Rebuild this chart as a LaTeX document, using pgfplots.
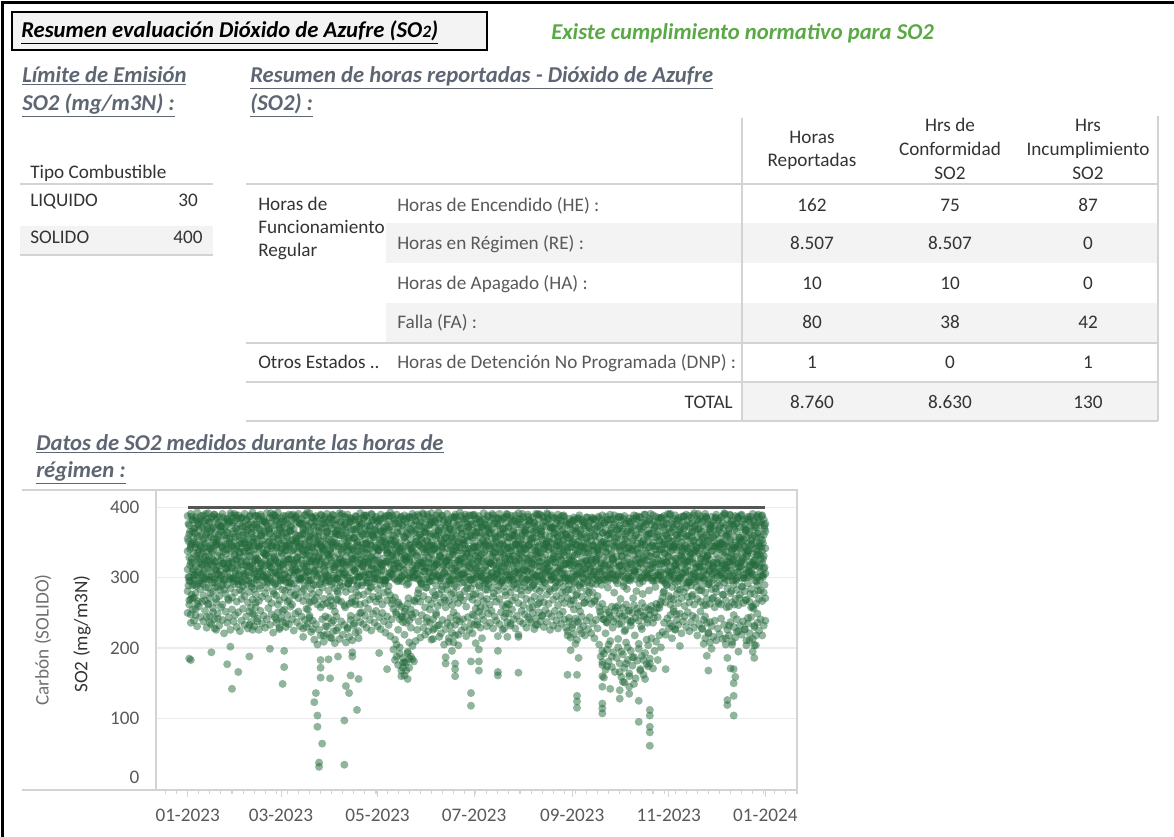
\documentclass[border=0pt]{standalone}
\usepackage{fontspec}
\setmainfont{Carlito}
\usepackage{pgfplots}
\usepackage{pgfplotstable}
\pgfplotsset{compat=1.18}
\definecolor{hdr}{HTML}{5E6673}
\definecolor{okg}{HTML}{5BA846}
\definecolor{dk}{HTML}{333333}
\definecolor{md}{HTML}{595959}
\definecolor{lg}{HTML}{707070}
\definecolor{shd}{HTML}{F3F3F3}
\definecolor{rl}{HTML}{D3D3D3}
\definecolor{ptc}{HTML}{22693A}
\definecolor{lim}{HTML}{555555}
\definecolor{grd}{HTML}{EBEBEB}
\newcommand\bodyf{\fontsize{14.4}{18}\selectfont}
\newcommand\hdrf{\fontsize{17}{20}\selectfont\bfseries\itshape}

\pgfplotstableread{
d a b c e f g
0 388 356 338 312 281 250
1 375 362 329 301 296 268
2 391 347 344 322 270 236
3 382 366 321 309 289 255
4 370 351 335 299 305 272
5 386 343 348 316 278 247
6 393 359 326 304 263 231
7 377 368 340 327 292 259
8 384 345 333 296 284 244
9 372 361 319 318 301 266
10 389 354 342 307 275 238
11 381 349 330 321 268 253
12 374 364 337 300 297 229
13 392 357 324 313 286 262
14 379 342 346 319 271 245
15 385 369 328 302 309 234
16 371 350 339 325 280 257
17 390 362 322 298 293 241
18 383 346 350 311 265 226
19 376 358 331 306 287 249
20 387 353 336 317 274 232
21 373 366 325 303 299 258
22 391 344 343 320 262 240
23 380 360 320 297 283 221
24 369 348 334 314 277 252
25 384 365 347 308 290 236
26 378 341 327 323 268 244
27 392 356 338 301 285 226
28 375 363 323 315 272 255
29 386 350 345 299 295 238
30 381 358 332 310 279 247
31 370 345 341 326 266 230
32 389 367 318 304 291 251
33 377 352 336 297 283 224
34 385 343 349 319 270 239
35 373 361 329 311 288 256
36 391 349 337 302 274 233
37 382 364 324 322 297 245
38 368 355 344 308 265 228
39 387 346 331 316 280 252
40 379 362 339 300 292 237
41 393 351 322 318 269 249
42 376 340 346 306 284 231
43 388 367 333 324 276 258
44 371 356 327 298 301 242
45 384 344 342 313 267 226
46 390 360 320 309 289 253
47 374 353 348 321 273 235
48 383 366 335 303 294 246
49 380 347 326 317 278 229
50 392 358 340 305 286 241
51 369 350 331 320 270 257
52 386 363 323 299 297 233
53 378 342 345 314 264 248
54 389 357 334 307 281 222
55 375 368 328 325 291 244
56 382 346 343 302 275 236
57 393 355 321 316 288 251
58 372 361 337 310 268 227
59 385 349 330 296 299 243
60 380 364 346 319 283 238
61 371 352 324 305 272 255
62 388 343 339 322 294 230
63 377 359 332 300 266 247
64 390 348 345 315 287 234
65 374 366 327 308 279 259
66 383 354 338 318 262 241
67 369 341 321 303 292 225
68 386 362 350 311 276 249
69 379 351 329 326 285 237
70 391 345 336 298 271 252
71 376 360 342 313 296 231
72 384 356 325 307 280 245
73 370 367 333 320 267 228
74 389 349 347 302 289 240
75 381 340 320 316 274 256
76 373 358 339 309 293 235
77 392 353 331 323 265 246
78 378 363 344 297 284 223
79 385 347 326 314 277 239
80 374 361 337 306 268 212
81 388 350 322 319 290 234
82 380 344 348 301 262 205
83 367 365 330 312 279 226
84 390 352 335 324 258 218
85 377 343 327 299 286 241
86 384 359 341 315 270 209
87 372 348 323 305 293 231
88 391 366 346 318 264 220
89 379 355 332 300 282 243
90 386 341 338 311 273 215
91 371 362 321 325 291 236
92 389 351 343 303 260 224
93 376 358 329 316 285 207
94 383 345 349 298 269 245
95 368 367 334 320 278 229
96 392 349 326 307 294 213
97 380 360 340 313 266 238
98 374 342 324 322 287 219
99 387 356 345 304 261 233
100 378 364 331 317 280 208
101 390 347 337 301 292 227
102 372 353 322 319 263 216
103 385 361 344 308 284 240
104 381 340 328 324 271 211
105 369 357 339 297 296 232
106 388 366 325 314 267 222
107 375 350 347 306 288 244
108 383 345 333 321 275 214
109 392 359 320 302 262 237
110 377 363 342 316 289 251
111 386 348 327 309 276 234
112 370 355 336 323 264 246
113 389 341 349 300 293 229
114 380 367 323 318 281 256
115 373 352 341 305 269 240
116 391 346 330 312 287 225
117 382 360 337 327 273 249
118 368 357 325 299 295 236
119 387 343 346 315 266 253
120 379 362 332 307 284 231
121 374 349 339 322 270 244
122 390 365 321 303 290 227
123 384 344 344 317 262 250
124 371 358 328 310 279 238
125 388 351 347 296 297 222
126 376 340 335 324 268 245
127 381 368 322 301 288 233
128 393 354 340 319 275 217
129 369 347 331 306 263 241
130 385 360 326 313 256 198
131 378 352 343 298 272 183
132 390 345 334 321 248 205
133 372 363 320 308 265 176
134 383 349 338 316 241 192
135 387 366 329 302 259 168
136 374 341 345 319 237 186
137 389 357 331 305 252 161
138 380 350 324 314 246 179
139 371 362 339 299 263 195
140 386 346 327 323 239 172
141 377 355 342 307 255 188
142 391 343 335 318 244 203
143 375 364 321 300 268 181
144 382 351 348 312 250 210
145 369 358 330 306 271 226
146 388 347 337 321 283 238
147 379 362 323 303 266 215
148 373 354 344 316 291 247
149 390 341 329 309 274 229
150 384 366 336 325 258 219
151 370 353 340 298 286 243
152 387 345 322 314 269 224
153 376 359 347 307 295 236
154 392 350 333 320 263 212
155 381 363 326 301 280 241
156 372 342 341 317 271 228
157 389 357 319 311 289 250
158 378 348 338 304 260 232
159 385 365 331 322 277 216
160 371 355 345 299 265 221
161 388 344 328 315 288 240
162 380 361 336 308 272 205
163 374 349 323 324 258 227
164 391 364 342 302 283 236
165 383 352 330 318 267 214
166 369 340 346 306 292 243
167 386 358 321 313 261 222
168 377 367 337 297 279 208
169 390 346 332 321 270 233
170 375 359 344 310 287 246
171 382 351 325 303 264 219
172 393 343 339 319 276 238
173 370 362 327 305 293 225
174 384 354 348 316 268 241
175 379 347 320 300 281 230
176 387 366 335 323 259 217
177 373 353 342 309 290 244
178 389 341 329 314 273 226
179 381 360 338 298 285 235
180 376 357 326 320 269 248
181 390 349 343 306 292 233
182 384 365 331 313 277 256
183 371 344 339 301 264 238
184 388 358 322 317 289 252
185 379 350 347 308 274 229
186 372 363 334 324 296 247
187 392 345 328 299 267 240
188 383 361 340 315 283 257
189 375 352 324 310 270 231
190 387 367 346 303 291 249
191 380 342 333 321 262 236
192 369 356 320 307 286 253
193 389 348 337 318 273 228
194 378 364 344 300 295 245
195 385 351 329 314 266 239
196 374 359 341 305 282 217
197 391 346 325 322 270 234
198 382 362 336 309 293 251
199 370 353 348 297 261 226
200 386 345 331 316 288 244
201 377 366 323 304 275 258
202 390 350 342 320 263 237
203 373 358 334 311 297 249
204 384 343 327 302 279 232
205 381 361 345 318 268 255
206 368 355 320 306 290 241
207 389 348 339 324 272 228
208 376 364 330 299 285 246
209 392 352 346 313 264 219
210 383 341 324 308 294 238
211 371 359 337 321 276 253
212 387 347 343 303 261 235
213 379 365 328 317 287 248
214 374 354 335 310 270 229
215 390 345 321 325 282 244
216 382 362 347 300 296 257
217 369 350 332 314 267 236
218 386 357 340 306 289 250
219 378 343 326 319 273 227
220 391 368 338 302 284 242
221 375 351 344 316 262 233
222 384 346 323 309 295 251
223 370 362 336 323 271 238
224 388 355 329 298 286 246
225 380 341 348 313 265 230
226 373 360 333 307 292 254
227 392 352 321 320 276 237
228 383 344 340 304 263 249
229 376 367 327 317 281 226
230 389 349 342 310 298 245
231 371 356 335 301 269 232
232 385 364 322 322 285 253
233 378 347 346 308 274 239
234 390 358 330 315 261 228
235 374 342 338 299 293 247
236 382 361 325 326 270 235
237 369 353 343 312 287 252
238 387 346 332 305 264 241
239 380 363 320 319 280 229
240 375 357 339 306 271 224
241 384 349 326 318 290 238
242 370 360 344 300 262 215
243 381 343 331 314 283 233
244 386 355 323 309 268 220
245 372 364 341 321 294 242
246 379 347 334 303 277 212
247 385 352 320 316 260 236
248 368 359 346 307 286 226
249 383 344 328 322 273 245
250 377 362 337 299 292 231
251 371 350 342 313 265 218
252 386 356 324 305 281 239
253 374 341 335 319 270 227
254 380 365 330 311 288 244
255 369 353 345 302 263 221
256 384 346 321 317 279 235
257 376 360 338 308 266 214
258 382 351 326 323 291 240
259 373 343 340 300 274 228
260 385 358 333 312 258 205
261 372 347 321 297 247 188
262 389 364 345 309 263 176
263 378 352 329 318 241 192
264 367 343 338 303 255 169
265 383 361 326 316 236 198
266 376 349 342 300 251 181
267 390 356 319 311 244 210
268 371 363 335 306 259 173
269 384 345 327 321 238 194
270 379 357 343 298 253 166
271 369 350 330 314 242 186
272 387 362 323 305 260 201
273 374 344 339 317 249 178
274 382 355 331 302 235 159
275 370 366 346 310 257 191
276 388 348 324 320 246 172
277 377 359 337 299 262 208
278 366 351 328 313 240 183
279 385 342 344 307 254 164
280 380 364 322 319 237 196
281 372 353 339 303 250 175
282 389 346 332 311 261 187
283 375 360 326 298 243 157
284 383 349 341 316 256 182
285 370 357 334 308 239 199
286 386 343 320 322 252 170
287 378 365 347 301 264 189
288 373 354 329 314 245 162
289 390 347 338 305 258 193
290 381 361 325 318 241 177
291 368 352 343 300 255 204
292 384 344 331 312 247 185
293 376 363 336 307 260 214
294 389 350 322 320 236 171
295 371 358 345 302 251 196
296 387 345 333 315 263 209
297 379 366 327 304 244 183
298 374 353 340 319 257 218
299 385 341 324 308 266 201
300 372 359 348 297 272 223
301 388 350 335 313 281 236
302 377 362 322 306 265 219
303 384 347 341 321 290 242
304 370 356 330 300 274 228
305 391 344 337 316 262 247
306 381 365 325 309 287 231
307 373 352 344 303 269 252
308 389 348 328 318 294 226
309 376 361 339 311 277 240
310 385 343 321 324 264 233
311 369 357 346 299 283 249
312 387 351 332 315 271 221
313 380 364 326 307 292 238
314 374 346 341 320 260 245
315 390 355 323 302 286 230
316 382 342 338 317 273 251
317 371 360 331 310 265 224
318 386 349 345 304 289 237
319 378 366 327 322 276 246
320 392 353 336 298 262 229
321 375 345 320 314 295 243
322 383 358 342 308 270 218
323 370 350 334 319 282 234
324 388 363 328 301 266 252
325 379 344 347 316 288 227
326 373 357 324 309 261 240
327 391 348 339 323 279 214
328 384 361 330 305 270 236
329 376 352 343 318 291 222
330 369 366 326 311 263 208
331 387 345 338 300 284 231
332 380 358 321 317 272 216
333 374 349 345 308 258 239
334 390 362 333 322 280 211
335 382 343 327 303 267 228
336 371 356 341 314 289 220
337 386 364 324 306 262 242
338 378 351 348 320 276 213
339 392 347 331 299 293 233
340 375 360 337 315 268 205
341 384 345 322 310 285 226
342 370 363 344 323 259 218
343 389 354 329 302 278 237
344 381 341 339 318 265 209
345 373 359 326 307 290 230
346 388 350 346 321 270 215
347 377 366 333 300 283 241
348 385 346 320 316 261 224
349 372 357 342 309 276 232
350 390 352 336 324 288 219
351 383 361 328 304 264 238
352 376 344 345 319 281 227
353 369 358 330 312 269 211
354 387 349 339 301 292 235
355 380 365 323 317 266 221
356 374 353 347 308 284 244
357 391 342 334 322 259 213
358 382 360 325 305 277 230
359 371 351 341 318 263 204
360 386 363 332 300 289 236
361 379 346 344 315 270 225
362 375 358 327 309 282 241
363 389 354 338 321 267 218
364 383 361 331 313 279 232
365 377 366 342 306 271 239
}\sodata

\pgfplotstableread{
d h i j k
0.5 352 301 377 289
1.5 318 366 295 341
2.5 387 327 349 276
3.5 296 383 312 358
4.5 364 290 371 304
5.5 331 349 288 382
6.5 308 375 336 267
7.5 379 314 359 322
8.5 343 388 305 294
9.5 291 336 381 351
10.5 370 299 327 310
11.5 325 361 391 286
12.5 384 317 344 369
13.5 302 379 297 331
14.5 358 341 366 278
15.5 337 293 319 387
16.5 390 355 372 300
17.5 311 323 287 346
18.5 348 386 354 316
19.5 297 305 378 362
20.5 373 368 309 283
21.5 329 289 346 374
22.5 386 337 292 321
23.5 306 372 361 298
24.5 356 313 383 340
25.5 320 380 315 270
26.5 381 298 350 357
27.5 299 347 389 313
28.5 366 321 300 379
29.5 333 391 342 291
30.5 389 306 370 326
31.5 314 359 295 385
32.5 360 329 337 304
33.5 295 384 323 349
34.5 374 294 386 281
35.5 338 352 306 365
36.5 305 373 355 318
37.5 383 316 290 343
38.5 347 338 376 296
39.5 316 389 331 372
40.5 371 307 364 287
41.5 292 357 313 350
42.5 355 325 388 309
43.5 328 378 297 376
44.5 388 302 345 325
45.5 309 346 369 285
46.5 363 387 318 360
47.5 336 311 381 302
48.5 300 364 334 380
49.5 378 334 301 332
50.5 341 296 374 293
51.5 317 370 352 367
52.5 392 322 308 315
53.5 294 350 385 346
54.5 359 390 330 277
55.5 324 308 292 388
56.5 385 343 363 306
57.5 304 376 321 353
58.5 369 315 379 297
59.5 335 361 341 371
60.5 312 297 388 320
61.5 380 339 305 282
62.5 346 383 357 364
63.5 293 326 326 301
64.5 367 367 294 348
65.5 326 292 373 389
66.5 390 353 339 311
67.5 307 320 384 275
68.5 352 388 311 356
69.5 321 309 360 329
70.5 382 345 299 378
71.5 298 377 348 299
72.5 362 300 377 339
73.5 339 363 316 284
74.5 311 331 390 368
75.5 376 393 333 308
76.5 344 304 296 354
77.5 296 358 367 323
78.5 387 324 343 386
79.5 330 372 310 290
80.5 357 310 380 336
81.5 303 385 325 272
82.5 372 328 354 359
83.5 319 348 291 305
84.5 389 295 371 345
85.5 340 381 338 262
86.5 309 318 387 377
87.5 365 356 302 296
88.5 334 303 365 333
89.5 295 374 329 383
90.5 384 335 351 268
91.5 350 390 294 347
92.5 315 312 382 300
93.5 375 366 319 363
94.5 299 299 362 281
95.5 361 344 306 322
96.5 327 379 389 289
97.5 391 321 336 370
98.5 306 360 300 313
99.5 368 307 376 258
100.5 345 386 322 351
101.5 291 340 357 292
102.5 379 296 299 380
103.5 332 369 384 265
104.5 356 314 342 327
105.5 310 383 311 357
106.5 387 330 369 279
107.5 301 351 290 338
108.5 373 301 379 302
109.5 337 376 326 366
110.5 318 317 361 293
111.5 385 389 303 344
112.5 349 327 388 308
113.5 296 362 335 374
114.5 363 305 293 320
115.5 328 348 374 286
116.5 390 381 317 361
117.5 305 313 358 299
118.5 370 367 306 384
119.5 342 298 381 325
120.5 313 339 340 274
121.5 381 384 297 354
122.5 353 319 366 311
123.5 297 357 320 367
124.5 366 292 386 296
125.5 323 373 349 339
126.5 389 336 301 281
127.5 307 388 372 349
128.5 360 309 331 305
129.5 334 353 389 268
130.5 300 382 312 318
131.5 377 324 355 251
132.5 346 365 295 336
133.5 314 296 377 262
134.5 386 342 338 299
135.5 295 376 302 244
136.5 358 311 383 327
137.5 331 359 325 256
138.5 384 329 364 290
139.5 303 387 292 271
140.5 369 300 347 330
141.5 340 366 386 248
142.5 311 337 309 301
143.5 388 304 368 266
144.5 352 380 332 313
145.5 298 318 390 278
146.5 374 361 298 346
147.5 321 293 357 292
148.5 392 349 380 321
149.5 309 371 314 365
150.5 364 315 343 286
151.5 337 390 300 352
152.5 294 328 375 309
153.5 380 362 336 378
154.5 345 302 385 296
155.5 316 346 307 340
156.5 383 379 360 275
157.5 302 320 324 361
158.5 367 368 393 302
159.5 330 299 296 331
160.5 389 341 352 283
161.5 306 383 318 349
162.5 357 306 371 268
163.5 325 357 290 315
164.5 378 325 381 295
165.5 296 372 329 369
166.5 362 297 356 277
167.5 339 350 303 334
168.5 312 386 387 289
169.5 386 314 340 356
170.5 349 367 309 298
171.5 299 323 376 325
172.5 371 388 327 272
173.5 335 305 363 350
174.5 305 354 294 307
175.5 390 330 384 341
176.5 358 377 333 285
177.5 318 301 368 372
178.5 376 359 315 297
179.5 297 335 389 322
180.5 367 389 345 276
181.5 344 310 299 360
182.5 314 365 378 303
183.5 384 328 324 336
184.5 331 381 365 286
185.5 301 302 306 373
186.5 373 353 383 310
187.5 350 376 337 292
188.5 293 318 358 347
189.5 389 371 297 283
190.5 322 299 370 364
191.5 363 345 321 301
192.5 307 385 391 330
193.5 377 324 335 278
194.5 336 358 303 355
195.5 298 306 377 312
196.5 385 383 316 288
197.5 348 337 362 371
198.5 315 295 296 306
199.5 370 364 384 334
200.5 327 320 341 280
201.5 391 387 309 358
202.5 304 343 372 297
203.5 357 300 330 326
204.5 338 378 388 287
205.5 296 331 298 366
206.5 381 361 359 309
207.5 347 308 322 348
208.5 312 384 379 291
209.5 376 327 305 335
210.5 333 355 348 282
211.5 299 391 385 362
212.5 368 312 293 311
213.5 341 368 364 341
214.5 309 297 327 298
215.5 387 347 382 376
216.5 355 380 311 286
217.5 320 322 356 328
218.5 379 366 300 290
219.5 294 304 373 357
220.5 364 389 334 303
221.5 329 335 391 337
222.5 390 301 317 281
223.5 303 359 366 366
224.5 374 386 297 308
225.5 342 318 345 294
226.5 311 349 380 349
227.5 385 390 314 325
228.5 351 309 358 284
229.5 297 372 303 371
230.5 372 326 386 300
231.5 331 363 328 339
232.5 306 294 370 287
233.5 382 352 295 361
234.5 346 385 351 310
235.5 314 316 377 333
236.5 388 367 306 279
237.5 301 336 389 354
238.5 362 300 320 296
239.5 337 377 361 343
240.5 296 321 299 283
241.5 378 357 376 329
242.5 349 298 325 268
243.5 318 381 368 351
244.5 383 332 292 302
245.5 305 366 347 275
246.5 369 306 384 337
247.5 338 389 316 289
248.5 293 344 357 362
249.5 380 311 301 306
250.5 345 374 379 264
251.5 313 324 336 321
252.5 386 359 294 350
253.5 302 297 371 279
254.5 359 382 325 314
255.5 327 339 386 292
256.5 384 305 309 346
257.5 298 370 360 268
258.5 366 327 330 303
259.5 340 387 296 337
260.5 309 313 375 252
261.5 381 350 320 290
262.5 351 299 364 241
263.5 319 378 297 305
264.5 387 336 349 237
265.5 296 361 382 286
266.5 363 304 313 247
267.5 333 383 367 299
268.5 305 325 328 229
269.5 376 352 389 279
270.5 346 296 304 258
271.5 292 368 358 302
272.5 371 316 386 234
273.5 338 387 318 270
274.5 310 330 346 245
275.5 384 302 293 288
276.5 355 362 377 226
277.5 317 342 335 284
278.5 380 297 302 253
279.5 299 378 369 296
280.5 367 320 340 239
281.5 342 356 384 271
282.5 308 311 309 218
283.5 388 385 362 281
284.5 326 335 321 250
285.5 373 300 387 292
286.5 349 369 299 231
287.5 295 327 351 277
288.5 379 390 325 246
289.5 335 308 376 300
290.5 303 358 306 236
291.5 362 381 363 282
292.5 391 318 330 254
293.5 314 346 296 299
294.5 368 296 380 243
295.5 341 374 322 287
296.5 297 333 358 257
297.5 385 361 307 304
298.5 352 303 385 262
299.5 320 386 340 296
300.5 376 324 298 279
301.5 293 348 368 334
302.5 360 378 323 290
303.5 331 310 391 356
304.5 390 365 303 308
305.5 306 297 352 271
306.5 371 340 376 345
307.5 345 384 317 299
308.5 312 319 361 327
309.5 382 356 295 284
310.5 300 303 381 366
311.5 363 372 332 301
312.5 337 330 306 342
313.5 387 388 370 280
314.5 308 312 344 323
315.5 374 360 293 359
316.5 324 295 388 293
317.5 294 377 327 335
318.5 358 335 365 274
319.5 389 306 301 352
320.5 339 368 373 305
321.5 315 343 338 287
322.5 381 391 297 369
323.5 302 316 384 316
324.5 366 355 326 282
325.5 334 300 357 346
326.5 297 382 310 299
327.5 386 328 387 261
328.5 353 364 331 332
329.5 320 309 294 291
330.5 377 375 371 356
331.5 305 339 314 270
332.5 369 298 359 314
333.5 344 386 385 285
334.5 292 321 307 348
335.5 383 367 345 264
336.5 350 304 374 309
337.5 317 349 299 340
338.5 371 389 336 276
339.5 303 313 391 319
340.5 361 358 313 258
341.5 330 296 366 302
342.5 390 376 322 351
343.5 311 334 380 281
344.5 376 303 296 324
345.5 342 369 343 262
346.5 296 330 377 298
347.5 385 387 308 344
348.5 357 315 354 271
349.5 322 352 389 316
350.5 380 299 326 287
351.5 300 371 300 354
352.5 367 336 368 268
353.5 339 384 333 307
354.5 309 310 383 338
355.5 387 362 302 277
356.5 348 305 356 319
357.5 316 380 372 256
358.5 374 325 318 296
359.5 295 357 388 333
360.5 365 390 337 282
361.5 333 318 297 349
362.5 388 344 379 303
363.5 304 301 349 327
364.5 370 374 315 290
}\sodatb

\pgfplotstableread{
d v
1 262
2 248
3 271
4 239
5 256
12 244
13 263
14 236
16 251
17 228
18 270
19 242
39 233
40 258
41 226
42 247
43 265
44 238
56 241
57 262
58 229
60 253
62 236
64 268
75 230
76 255
77 243
78 266
79 227
86 218
87 245
88 231
90 260
91 214
92 239
93 252
94 225
95 268
101 229
103 246
105 235
106 262
108 224
109 250
131 212
132 188
133 226
134 201
135 245
136 179
137 219
138 236
139 193
140 208
141 229
142 184
151 238
153 255
155 226
157 247
159 233
165 209
166 232
167 196
168 251
169 218
170 240
171 204
180 221
181 246
182 207
183 233
184 198
185 258
186 214
200 228
201 249
202 216
203 262
204 235
216 241
218 258
220 233
222 264
224 246
240 218
241 243
242 197
243 229
244 255
245 206
246 238
247 186
248 252
249 221
262 196
263 158
264 221
265 174
266 205
267 142
268 188
272 213
273 166
274 195
275 152
276 224
277 178
278 201
279 160
280 232
281 187
282 149
285 206
286 168
287 227
288 183
289 156
290 212
291 174
305 235
306 214
307 256
308 227
309 248
311 203
325 228
326 206
327 245
328 189
329 221
330 237
331 199
340 214
341 186
342 232
343 171
344 205
345 247
346 159
347 223
348 195
352 226
353 204
354 243
355 211
356 258
357 195
358 232
359 218
360 249
}\streak

\pgfplotstableread{
d v
1 185
2 183
15 194
25 177
27 202
28 142
32 166
39 188
52 199
60 149
61 173
61 196
73 216
80 123
81 136
82 104
82 88
83 37
83 31
84 158
84 172
84 183
85 64
89 184
90 157
95 188
99 34
99 97
100 146
102 136
103 161
104 188
104 194
107 112
108 156
121 193
126 170
135 160
136 172
137 180
138 168
139 156
140 185
155 213
163 178
163 187
169 160
169 170
169 178
179 136
179 118
179 181
184 168
184 181
196 161
196 166
196 196
209 165
209 216
240 162
246 115
246 124
246 132
246 162
262 107
262 114
262 121
262 145
262 160
262 180
273 128
273 140
276 151
279 135
279 145
285 95
285 125
292 112
292 104
292 88
292 80
292 61
292 178
302 170
329 168
341 119
341 126
345 104
345 132
345 150
345 170
358 186
358 204
}\outl

\pgfplotsset{pts/.style={only marks, mark=*, mark size=3pt,
  mark options={draw=ptc, fill=ptc, draw opacity=0, fill opacity=0.5}}}
\tikzset{t/.style={inner sep=0, yshift=-2.6pt}}

\begin{document}
\begin{tikzpicture}[x=0.75pt,y=0.75pt]
\useasboundingbox (0,0) rectangle (1174,-837);
% outer frame
\draw[line width=1.6pt] (2.5,-837) -- (2.5,-2.5) -- (1174,-2.5);
% title box
\draw[fill=shd, line width=1.1pt] (12,-12) rectangle (487,-50);
\node[t, anchor=mid west] at (21,-31) {\hdrf\underline{Resumen evaluación Dióxido de Azufre (SO{\fontsize{13}{14}\selectfont 2})}};
\node[t, anchor=mid west, text=okg] at (551,-33) {\hdrf Existe cumplimiento normativo para SO2};
% headings
\node[t, anchor=mid west, text=hdr] at (22,-76) {\hdrf\underline{Límite de Emisión}};
\node[t, anchor=mid west, text=hdr] at (22,-104) {\hdrf\underline{SO2 (mg/m3N) :}};
\node[t, anchor=mid west, text=hdr] at (250,-76) {\hdrf\underline{Resumen de horas reportadas - Dióxido de Azufre}};
\node[t, anchor=mid west, text=hdr] at (250,-104) {\hdrf\underline{(SO2) :}};
\node[t, anchor=mid west, text=hdr] at (36,-444) {\hdrf\underline{Datos de SO2 medidos durante las horas de}};
\node[t, anchor=mid west, text=hdr] at (36,-471) {\hdrf\underline{régimen :}};
% small table
\fill[shd] (20,-226) rectangle (213,-254);
\draw[rl, line width=1.1pt] (20,-184) -- (213,-184);
\draw[rl, line width=1.1pt] (20,-255) -- (213,-255);
\node[t, anchor=mid west, text=dk] at (30,-172) {\bodyf Tipo Combustible};
\node[t, anchor=mid west, text=dk] at (30,-200) {\bodyf LIQUIDO};
\node[t, text=dk, anchor=mid] at (188,-200) {\bodyf 30};
\node[t, anchor=mid west, text=dk] at (30,-237) {\bodyf SOLIDO};
\node[t, text=dk, anchor=mid] at (188,-237) {\bodyf 400};
% big table shading
\fill[shd] (386,-223) rectangle (1158,-263);
\fill[shd] (386,-303) rectangle (1158,-342);
\fill[shd] (742,-382) rectangle (1158,-421);
\draw[rl, line width=1.1pt] (246,-184) -- (1158,-184);
\draw[rl, line width=1.1pt] (246,-343) -- (1158,-343);
\draw[rl, line width=1.1pt] (246,-382) -- (1158,-382);
\draw[rl, line width=1.1pt] (246,-421) -- (1158,-421);
\draw[rl, line width=1.1pt] (742,-118) -- (742,-421);
\draw[rl, line width=1.1pt] (1158,-116) -- (1158,-421);
% headers
\node[align=center, inner sep=0, text=dk, font=\fontsize{14.4}{17.25}\selectfont] at (812,-150.5) {Horas\\Reportadas};
\node[align=center, inner sep=0, text=dk, font=\fontsize{14.4}{18}\selectfont] at (950,-149) {Hrs de\\Conformidad\\SO2};
\node[align=center, inner sep=0, text=dk, font=\fontsize{14.4}{18}\selectfont] at (1088,-149) {Hrs\\Incumplimiento\\SO2};
% first column
\node[t, anchor=mid west, text=dk] at (258,-204) {\bodyf Horas de};
\node[t, anchor=mid west, text=dk] at (258,-227) {\bodyf Funcionamiento};
\node[t, anchor=mid west, text=dk] at (258,-250) {\bodyf Regular};
\node[t, anchor=mid west, text=dk] at (258,-362) {\bodyf Otros Estados ..};
% second column
\node[t, anchor=mid west, text=md] at (397,-205) {\bodyf Horas de Encendido (HE) :};
\node[t, anchor=mid west, text=md] at (397,-243) {\bodyf Horas en Régimen (RE) :};
\node[t, anchor=mid west, text=md] at (397,-283) {\bodyf Horas de Apagado (HA) :};
\node[t, anchor=mid west, text=md] at (397,-322) {\bodyf Falla (FA) :};
\node[t, anchor=mid west, text=md] at (397,-362) {\bodyf Horas de Detención No Programada (DNP) :};
\node[t, anchor=mid east, text=dk] at (733,-402) {\bodyf TOTAL};
% values
\foreach \yy/\va/\vb/\vc in {205/162/75/87, 243/8.507/8.507/0, 283/10/10/0, 322/80/38/42, 362/1/0/1, 402/8.760/8.630/130}{
  \node[t, anchor=mid, text=dk] at (812,-\yy) {\bodyf \va};
  \node[t, anchor=mid, text=dk] at (950,-\yy) {\bodyf \vb};
  \node[t, anchor=mid, text=dk] at (1088,-\yy) {\bodyf \vc};
}
% chart panel lines
\draw[rl, line width=1pt] (22,-490) -- (156,-490);
\draw[rl, line width=1pt] (22,-790) -- (156,-790);
\node[rotate=90, inner sep=0, text=lg, font=\bodyf] at (43,-640) {Carbón (SOLIDO)};
\node[rotate=90, inner sep=0, text=dk, font=\bodyf] at (82,-634) {SO2 (mg/m3N)};
\begin{axis}[
  at={(117pt,-592.5pt)}, anchor=south west,
  scale only axis, width=480.75pt, height=225pt,
  xmin=-20, xmax=385, ymin=-2, ymax=425,
  axis line style={draw=rl, line width=0.9pt},
  ytick={100,200,300,400},
  extra y ticks={0},
  extra y tick style={yticklabel style={yshift=8.7pt}, major grid style={draw=none}},
  ymajorgrids, major grid style={draw=grd, line width=0.9pt},
  ytick style={draw=none},
  xtick={0,59,120,181,243,304,365},
  xticklabels={01-2023,03-2023,05-2023,07-2023,09-2023,11-2023,01-2024},
  minor xtick={-14,-7,...,385},
  xtick pos=left, ytick pos=left,
  tick align=outside,
  xtick style={draw=rl, line width=0.8pt},
  major tick length=5pt, minor tick length=3pt,
  tick label style={font=\bodyf, text=md},
  /pgf/number format/assume math mode=true,
  xticklabel style={yshift=-6pt},
  yticklabel style={xshift=-4pt},
  clip=false,
]
\addplot[pts] table[x=d, y=a] {\sodata};
\addplot[pts] table[x=d, y=b] {\sodata};
\addplot[pts] table[x=d, y=c] {\sodata};
\addplot[pts] table[x=d, y=e] {\sodata};
\addplot[pts] table[x=d, y=f] {\sodata};
\addplot[pts] table[x=d, y=g] {\sodata};
\addplot[pts] table[x=d, y=h] {\sodatb};
\addplot[pts] table[x=d, y=i] {\sodatb};
\addplot[pts] table[x=d, y=j] {\sodatb};
\addplot[pts] table[x=d, y=k] {\sodatb};
\addplot[pts] table[x=d, y=v] {\streak};
\addplot[pts] table[x=d, y=v] {\outl};
\addplot[lim, line width=2.4pt] coordinates {(0,400) (365,400)};
\end{axis}
\end{tikzpicture}
\end{document}
